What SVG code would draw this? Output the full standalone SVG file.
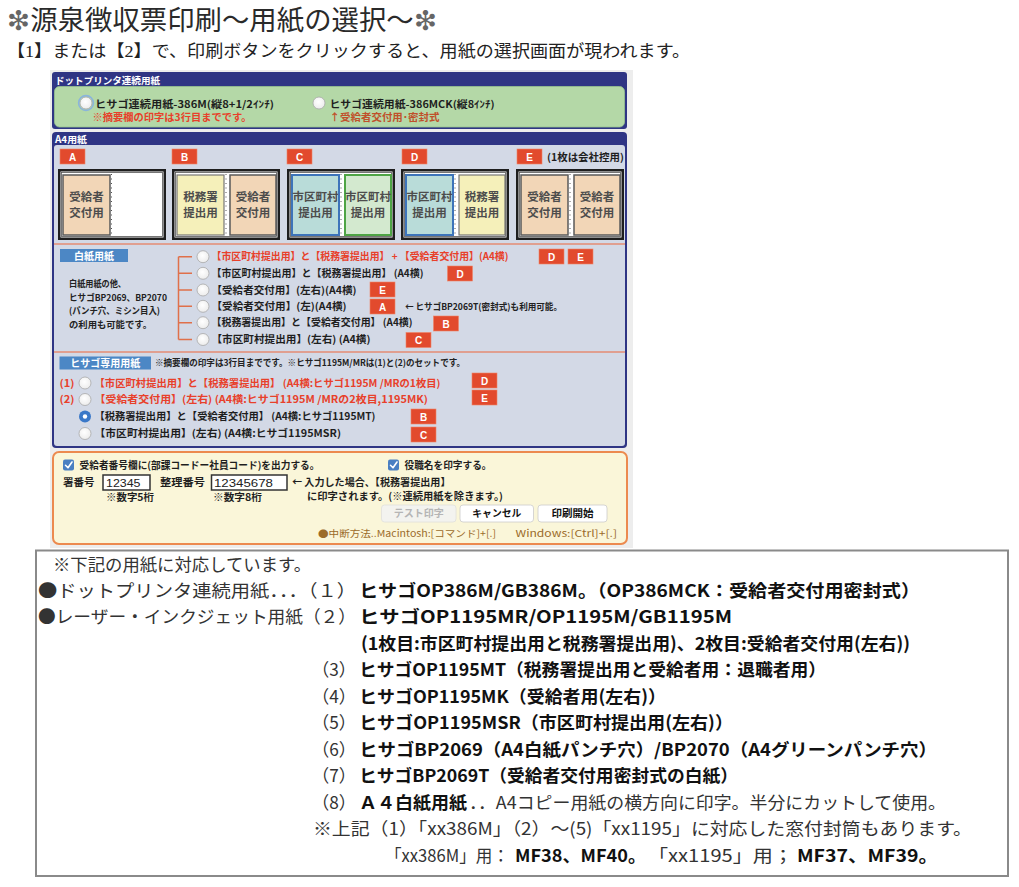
<svg xmlns="http://www.w3.org/2000/svg" width="1019" height="887" viewBox="0 0 1019 887">
<defs>
<style>
text{font-family:"Noto Sans CJK JP","Noto Sans",sans-serif;}
.b{font-weight:bold;}
.hd{fill:#ffffff;font-size:9.6px;font-weight:bold;}
.t10{font-size:10px;font-weight:bold;fill:#1e1e1e;}
.t9{font-size:9px;font-weight:bold;fill:#222;}
.red{fill:#e8402a;}
.bdg{fill:#e24a2d;stroke:#f08466;stroke-width:0.6;}
.bdt{fill:#ffffff;font-size:10px;font-weight:bold;text-anchor:middle;font-family:"Liberation Sans","Noto Sans",sans-serif;}
.frm{fill:#ffffff;stroke:#1e1e1e;stroke-width:2.5;}
.frm2{fill:none;stroke:#555;stroke-width:0.8;}
.peach{fill:#f2d6b7;stroke:#5a5a5a;stroke-width:1.5;}
.yel{fill:#f5f0ba;stroke:#777;stroke-width:1.2;}
.teal{fill:#b9dcd9;stroke:#3d74ba;stroke-width:2;}
.grn{fill:#d3e9cf;stroke:#4ea445;stroke-width:2;}
.pt{font-size:11.5px;font-weight:bold;fill:#4d4d4d;text-anchor:middle;}
.dots{stroke:#555;stroke-width:1;stroke-dasharray:1 3.5;}
.radio{fill:url(#rg);stroke:#a8a8a8;stroke-width:0.8;}
.lbl{fill:#4c87c5;}
.lblt{fill:#ffffff;font-size:10px;font-weight:bold;text-anchor:middle;}
.cb{fill:#4a7fc2;}
.chk{fill:none;stroke:#ffffff;stroke-width:1.6;stroke-linecap:round;stroke-linejoin:round;}
.inp{fill:#ffffff;stroke:#333;stroke-width:1.5;}
.inpt{font-size:11px;fill:#222;font-family:"Liberation Sans","Noto Sans",sans-serif;}
.btn{fill:#ffffff;stroke:#cccccc;stroke-width:0.8;}
.btnt{font-size:10px;font-weight:bold;fill:#111;text-anchor:middle;}
.brn{font-size:9.5px;fill:#9b6b2a;}
.lt{font-size:17.5px;fill:#333;}
.lb{font-size:17.5px;font-weight:bold;fill:#111;}
.conn{fill:none;stroke:#e0704a;stroke-width:1.5;}
</style>
<radialGradient id="rg" cx="0.45" cy="0.4" r="0.6">
<stop offset="0" stop-color="#ffffff"/>
<stop offset="1" stop-color="#ececec"/>
</radialGradient>
</defs>

<rect x="0" y="0" width="1019" height="887" fill="#ffffff"/>

<g id="title">
<text x="7" y="30" font-size="27" fill="#2a2a2a" textLength="430" lengthAdjust="spacingAndGlyphs"><tspan fill="#666">❇</tspan>源泉徴収票印刷〜用紙の選択〜<tspan fill="#666">❇</tspan></text>
</g>
<g id="subtitle">
<text x="7" y="57" font-size="17" fill="#222" style="font-family:'Liberation Serif','Noto Sans CJK JP',serif" textLength="683" lengthAdjust="spacingAndGlyphs">【1】または【2】で、印刷ボタンをクリックすると、用紙の選択画面が現われます。</text>
</g>

<g id="screen">
<rect x="50" y="70" width="583" height="478" fill="#ededed"/>
</g>

<g id="dot-printer-panel">
<rect x="52" y="72" width="575" height="57" rx="3" fill="#2f3584"/>
<text x="55" y="83.5" class="hd" textLength="105" lengthAdjust="spacingAndGlyphs">ドットプリンタ連続用紙</text>
<rect x="54.5" y="86.5" width="570" height="40.5" rx="5" fill="#b4d8a7" stroke="#98c48e" stroke-width="0.8"/>
<circle cx="86" cy="103" r="7.4" fill="none" stroke="#8ab4dc" stroke-width="1.6"/>
<circle cx="86" cy="103" r="6" class="radio"/>
<text x="95" y="107.5" class="t10" font-size="10.5" textLength="179" lengthAdjust="spacingAndGlyphs">ヒサゴ連続用紙-386M(縦8+1/2ｲﾝﾁ)</text>
<text x="92.5" y="121" class="t10 red" textLength="159" lengthAdjust="spacingAndGlyphs">※摘要欄の印字は3行目までです。</text>
<circle cx="319" cy="103" r="6" class="radio"/>
<text x="329.5" y="107.5" class="t10" font-size="10.5" textLength="165" lengthAdjust="spacingAndGlyphs">ヒサゴ連続用紙-386MCK(縦8ｲﾝﾁ)</text>
<text x="329.5" y="121" class="t10" style="fill:#c0502a" textLength="110" lengthAdjust="spacingAndGlyphs">↑受給者交付用･密封式</text>
</g>

<g id="a4-panel">
<rect x="52" y="132" width="575" height="316" rx="4" fill="#2f3584"/>
<rect x="54" y="145" width="571" height="301" rx="3" fill="#d3d9e6"/>
<text x="55" y="142.5" class="hd" textLength="32" lengthAdjust="spacingAndGlyphs">A4用紙</text>
<g id="badges-a4">
<rect x="60" y="149" width="25" height="15" class="bdg"/><text x="72.5" y="160.5" class="bdt">A</text>
<rect x="172" y="149" width="25" height="15" class="bdg"/><text x="184.5" y="160.5" class="bdt">B</text>
<rect x="287" y="149" width="25" height="15" class="bdg"/><text x="299.5" y="160.5" class="bdt">C</text>
<rect x="402" y="149" width="25" height="15" class="bdg"/><text x="414.5" y="160.5" class="bdt">D</text>
<rect x="517" y="149" width="25" height="15" class="bdg"/><text x="529.5" y="160.5" class="bdt">E</text>
<text x="547" y="160.5" class="t10" textLength="77" lengthAdjust="spacingAndGlyphs">(1枚は会社控用)</text>
</g>
<g id="paper-A" transform="translate(58,169)">
<rect x="1.25" y="1.25" width="105.5" height="68.5" class="frm"/>
<rect x="3.5" y="3.5" width="101" height="64" class="frm2"/>
<rect x="5" y="6" width="47" height="60" class="peach"/>
<text x="28.5" y="32" class="pt">受給者</text><text x="28.5" y="48" class="pt">交付用</text>
<line x1="53.5" y1="5" x2="53.5" y2="66" class="dots"/>
</g>
<g id="paper-B" transform="translate(172,169)">
<rect x="1.25" y="1.25" width="105.5" height="68.5" class="frm"/>
<rect x="3.5" y="3.5" width="101" height="64" class="frm2"/>
<rect x="5" y="6" width="47" height="60" class="yel"/>
<text x="28.5" y="32" class="pt">税務署</text><text x="28.5" y="48" class="pt">提出用</text>
<line x1="54" y1="5" x2="54" y2="66" class="dots"/>
<rect x="58" y="6" width="46" height="60" class="peach"/>
<text x="81" y="32" class="pt">受給者</text><text x="81" y="48" class="pt">交付用</text>
</g>
<g id="paper-C" transform="translate(287,169)">
<rect x="1.25" y="1.25" width="105.5" height="68.5" class="frm"/>
<rect x="3.5" y="3.5" width="101" height="64" class="frm2"/>
<rect x="5" y="6" width="47" height="60" class="teal"/>
<text x="28.5" y="32" class="pt">市区町村</text><text x="28.5" y="48" class="pt">提出用</text>
<line x1="54" y1="5" x2="54" y2="66" class="dots"/>
<rect x="58" y="6" width="46" height="60" class="grn"/>
<text x="81" y="32" class="pt">市区町村</text><text x="81" y="48" class="pt">提出用</text>
</g>
<g id="paper-D" transform="translate(401,169)">
<rect x="1.25" y="1.25" width="105.5" height="68.5" class="frm"/>
<rect x="3.5" y="3.5" width="101" height="64" class="frm2"/>
<rect x="5" y="6" width="47" height="60" class="teal"/>
<text x="28.5" y="32" class="pt">市区町村</text><text x="28.5" y="48" class="pt">提出用</text>
<line x1="54" y1="5" x2="54" y2="66" class="dots"/>
<rect x="58" y="6" width="46" height="60" class="yel"/>
<text x="81" y="32" class="pt">税務署</text><text x="81" y="48" class="pt">提出用</text>
</g>
<g id="paper-E" transform="translate(516,169)">
<rect x="1.25" y="1.25" width="105.5" height="68.5" class="frm"/>
<rect x="3.5" y="3.5" width="101" height="64" class="frm2"/>
<rect x="5" y="6" width="47" height="60" class="peach"/>
<text x="28.5" y="32" class="pt">受給者</text><text x="28.5" y="48" class="pt">交付用</text>
<line x1="54" y1="5" x2="54" y2="66" class="dots"/>
<rect x="58" y="6" width="46" height="60" class="peach"/>
<text x="81" y="32" class="pt">受給者</text><text x="81" y="48" class="pt">交付用</text>
</g>
<line x1="54" y1="244" x2="625" y2="244" stroke="#e58b73" stroke-width="1.5"/>
<line x1="54" y1="352" x2="625" y2="352" stroke="#e58b73" stroke-width="1.5"/>
</g>

<g id="blank-paper">
<rect x="60" y="249" width="68" height="13" class="lbl"/>
<text x="94" y="259.5" class="lblt">白紙用紙</text>
<text x="69" y="287" class="t9" textLength="57" lengthAdjust="spacingAndGlyphs">白紙用紙の他、</text>
<text x="69" y="300.5" class="t9" textLength="98" lengthAdjust="spacingAndGlyphs">ヒサゴBP2069、BP2070</text>
<text x="69" y="314" class="t9" textLength="91" lengthAdjust="spacingAndGlyphs">(パンチ穴、ミシン目入)</text>
<text x="69" y="327.5" class="t9" textLength="83" lengthAdjust="spacingAndGlyphs">の利用も可能です。</text>
<circle cx="203" cy="256.7" r="6" class="radio"/>
<text x="211.5" y="260.3" class="t10 red" textLength="297" lengthAdjust="spacingAndGlyphs">【市区町村提出用】と【税務署提出用】 + 【受給者交付用】(A4横)</text>
<rect x="539" y="249" width="25" height="15" class="bdg"/><text x="551.5" y="260.5" class="bdt">D</text>
<rect x="568" y="249" width="25" height="15" class="bdg"/><text x="580.5" y="260.5" class="bdt">E</text>
<circle cx="203" cy="273.3" r="6" class="radio"/>
<text x="211.5" y="276.9" class="t10" textLength="212" lengthAdjust="spacingAndGlyphs">【市区町村提出用】と【税務署提出用】 (A4横)</text>
<rect x="447.5" y="266" width="25" height="15" class="bdg"/><text x="460" y="277.5" class="bdt">D</text>
<circle cx="203" cy="290" r="6" class="radio"/>
<text x="211.5" y="293.6" class="t10" textLength="145" lengthAdjust="spacingAndGlyphs">【受給者交付用】(左右)(A4横)</text>
<rect x="370" y="282" width="25" height="15" class="bdg"/><text x="382.5" y="293.5" class="bdt">E</text>
<circle cx="203" cy="306.3" r="6" class="radio"/>
<text x="211.5" y="309.9" class="t10" textLength="135" lengthAdjust="spacingAndGlyphs">【受給者交付用】(左)(A4横)</text>
<rect x="370" y="299" width="25" height="15" class="bdg"/><text x="382.5" y="310.5" class="bdt">A</text>
<text x="405" y="309.5" class="t9" font-size="8.5" textLength="157" lengthAdjust="spacingAndGlyphs">← ヒサゴBP2069T(密封式)も利用可能。</text>
<circle cx="203" cy="322.7" r="6" class="radio"/>
<text x="211.5" y="326.3" class="t10" textLength="201" lengthAdjust="spacingAndGlyphs">【税務署提出用】と【受給者交付用】 (A4横)</text>
<rect x="433.5" y="316" width="25" height="15" class="bdg"/><text x="446" y="327.5" class="bdt">B</text>
<circle cx="203" cy="339.5" r="6" class="radio"/>
<text x="211.5" y="343.1" class="t10" textLength="159" lengthAdjust="spacingAndGlyphs">【市区町村提出用】(左右) (A4横)</text>
<rect x="406" y="332.5" width="25" height="15" class="bdg"/><text x="418.5" y="344" class="bdt">C</text>
</g>

<g id="hisago-paper">
<rect x="59.5" y="356.5" width="91.5" height="13" class="lbl"/>
<text x="105.2" y="366.8" class="lblt">ヒサゴ専用用紙</text>
<text x="155" y="366" class="t9" font-size="8.5" fill="#333" textLength="310" lengthAdjust="spacingAndGlyphs">※摘要欄の印字は3行目までです。※ヒサゴ1195M/MRは(1)と(2)のセットです。</text>
<text x="59.5" y="386.8" class="t10 red" font-weight="normal" textLength="15" lengthAdjust="spacingAndGlyphs">(1)</text>
<circle cx="85" cy="383" r="6" class="radio"/>
<text x="94.5" y="386.8" class="t10 red" textLength="346" lengthAdjust="spacingAndGlyphs">【市区町村提出用】と【税務署提出用】 (A4横:ヒサゴ1195M /MRの1枚目)</text>
<rect x="472" y="373" width="25" height="15" class="bdg"/><text x="484.5" y="384.5" class="bdt">D</text>
<text x="59.5" y="403.3" class="t10 red" font-weight="normal" textLength="15" lengthAdjust="spacingAndGlyphs">(2)</text>
<circle cx="85" cy="399.5" r="6" class="radio"/>
<text x="94.5" y="403.3" class="t10 red" textLength="333.5" lengthAdjust="spacingAndGlyphs">【受給者交付用】(左右) (A4横:ヒサゴ1195M /MRの2枚目,1195MK)</text>
<rect x="472" y="390" width="25" height="15" class="bdg"/><text x="484.5" y="401.5" class="bdt">E</text>
<circle cx="85" cy="416.5" r="6" fill="#3a78c8"/>
<circle cx="85" cy="416.5" r="2.2" fill="#ffffff"/>
<text x="94.5" y="420.3" class="t10" textLength="281" lengthAdjust="spacingAndGlyphs">【税務署提出用】と【受給者交付用】 (A4横:ヒサゴ1195MT)</text>
<rect x="411" y="409" width="25" height="15" class="bdg"/><text x="423.5" y="420.5" class="bdt">B</text>
<circle cx="85" cy="433.5" r="6" class="radio"/>
<text x="94.5" y="437.3" class="t10" textLength="246.5" lengthAdjust="spacingAndGlyphs">【市区町村提出用】(左右) (A4横:ヒサゴ1195MSR)</text>
<rect x="411" y="427" width="25" height="15" class="bdg"/><text x="423.5" y="438.5" class="bdt">C</text>
</g>

<g id="options-panel">
<rect x="53" y="452" width="574" height="92" rx="6" fill="#faf6d9" stroke="#ec8a4f" stroke-width="2"/>
<rect x="63" y="459.5" width="11" height="11" rx="2" class="cb"/>
<path d="M65.5 465.3 L68 467.8 L72 462" class="chk"/>
<text x="79.5" y="468.5" class="t10" textLength="240" lengthAdjust="spacingAndGlyphs">受給者番号欄に(部課コードー社員コード)を出力する。</text>
<rect x="388" y="459.5" width="11" height="11" rx="2" class="cb"/>
<path d="M390.5 465.3 L393 467.8 L397 462" class="chk"/>
<text x="404.5" y="468.5" class="t10" textLength="87" lengthAdjust="spacingAndGlyphs">役職名を印字する。</text>
<text x="63" y="485.5" class="t10" textLength="31.5" lengthAdjust="spacingAndGlyphs">署番号</text>
<rect x="103" y="475" width="47" height="15" class="inp"/>
<text x="106" y="486.8" class="inpt" textLength="34.5" lengthAdjust="spacingAndGlyphs">12345</text>
<text x="160" y="485.5" class="t10" textLength="45" lengthAdjust="spacingAndGlyphs">整理番号</text>
<rect x="211.5" y="475" width="75.5" height="15" class="inp"/>
<text x="214" y="486.8" class="inpt" textLength="59" lengthAdjust="spacingAndGlyphs">12345678</text>
<text x="292" y="485.5" class="t10" font-size="9.5" textLength="158.5" lengthAdjust="spacingAndGlyphs">← 入力した場合、【税務署提出用】</text>
<text x="307" y="500" class="t10" font-size="9.5" textLength="196" lengthAdjust="spacingAndGlyphs">に印字されます。(※連続用紙を除きます。)</text>
<text x="106" y="500.5" class="t10" font-size="9.5" textLength="48" lengthAdjust="spacingAndGlyphs">※数字5桁</text>
<text x="213" y="500.5" class="t10" font-size="9.5" textLength="49" lengthAdjust="spacingAndGlyphs">※数字8桁</text>
<rect x="381.5" y="505" width="74.5" height="17" rx="3" fill="#f3f3ef" stroke="#e0e0dc" stroke-width="0.8"/>
<text x="418.7" y="517" class="btnt" style="fill:#b5b5b5" textLength="50" lengthAdjust="spacingAndGlyphs">テスト印字</text>
<rect x="460" y="505" width="73.5" height="17" rx="3" class="btn"/>
<text x="496.8" y="517" class="btnt" textLength="49" lengthAdjust="spacingAndGlyphs">キャンセル</text>
<rect x="538" y="505" width="69" height="17" rx="3" class="btn"/>
<text x="572.5" y="517" class="btnt" textLength="42" lengthAdjust="spacingAndGlyphs">印刷開始</text>
<text x="318" y="536.5" class="brn" textLength="178" lengthAdjust="spacingAndGlyphs">●中断方法..Macintosh:[コマンド]+[.]</text>
<text x="515.5" y="536.5" class="brn" textLength="101.5" lengthAdjust="spacingAndGlyphs">Windows:[Ctrl]+[.]</text>
</g>

<g id="connectors">
<path d="M178.5 256.7 V339.5 M178.5 256.7 H192 M178.5 273.3 H192 M178.5 290 H192 M178.5 306.3 H192 M178.5 322.7 H192 M178.5 339.5 H192" class="conn"/>
</g>

<g id="note-box">
<rect x="36" y="550.5" width="972" height="325.5" fill="#ffffff" stroke="#8a8a8a" stroke-width="2"/>
<text x="53" y="570.5" class="lt" textLength="258" lengthAdjust="spacingAndGlyphs">※下記の用紙に対応しています。</text>
<text x="38" y="596.8" class="lt" textLength="318" lengthAdjust="spacingAndGlyphs">●ドットプリンタ連続用紙．．．（１）</text>
<text x="359" y="596.8" class="lb" textLength="561" lengthAdjust="spacingAndGlyphs">ヒサゴOP386M/GB386M。（OP386MCK：受給者交付用密封式）</text>
<text x="38" y="623.3" class="lt" textLength="318" lengthAdjust="spacingAndGlyphs">●レーザー・インクジェット用紙（２）</text>
<text x="359" y="623.3" class="lb" textLength="373" lengthAdjust="spacingAndGlyphs">ヒサゴOP1195MR/OP1195M/GB1195M</text>
<text x="361" y="649.8" class="lb" textLength="549" lengthAdjust="spacingAndGlyphs">(1枚目:市区町村提出用と税務署提出用)、2枚目:受給者交付用(左右))</text>
<text x="312" y="676.3" class="lt" textLength="44" lengthAdjust="spacingAndGlyphs">（3）</text>
<text x="359" y="676.3" class="lb" textLength="467" lengthAdjust="spacingAndGlyphs">ヒサゴOP1195MT（税務署提出用と受給者用：退職者用）</text>
<text x="312" y="702.8" class="lt" textLength="44" lengthAdjust="spacingAndGlyphs">（4）</text>
<text x="359" y="702.8" class="lb" textLength="307" lengthAdjust="spacingAndGlyphs">ヒサゴOP1195MK（受給者用(左右)）</text>
<text x="312" y="729.3" class="lt" textLength="44" lengthAdjust="spacingAndGlyphs">（5）</text>
<text x="359" y="729.3" class="lb" textLength="374" lengthAdjust="spacingAndGlyphs">ヒサゴOP1195MSR（市区町村提出用(左右)）</text>
<text x="312" y="755.8" class="lt" textLength="44" lengthAdjust="spacingAndGlyphs">（6）</text>
<text x="359" y="755.8" class="lb" textLength="578" lengthAdjust="spacingAndGlyphs">ヒサゴBP2069（A4白紙パンチ穴）/BP2070（A4グリーンパンチ穴）</text>
<text x="312" y="782.3" class="lt" textLength="44" lengthAdjust="spacingAndGlyphs">（7）</text>
<text x="359" y="782.3" class="lb" textLength="379" lengthAdjust="spacingAndGlyphs">ヒサゴBP2069T（受給者交付用密封式の白紙）</text>
<text x="312" y="808.8" class="lt" textLength="44" lengthAdjust="spacingAndGlyphs">（8）</text>
<text x="359" y="808.8" class="lb" textLength="108" lengthAdjust="spacingAndGlyphs">Ａ４白紙用紙</text>
<text x="469" y="808.8" class="lt" textLength="477" lengthAdjust="spacingAndGlyphs">．．A4コピー用紙の横方向に印字。半分にカットして使用。</text>
<text x="313" y="835.3" class="lt" textLength="659" lengthAdjust="spacingAndGlyphs">※上記（1）「xx386M」（2）〜(5)「xx1195」に対応した窓付封筒もあります。</text>
<text x="385" y="861.8" class="lt" textLength="124" lengthAdjust="spacingAndGlyphs">「xx386M」用：</text>
<text x="515" y="861.8" class="lb" textLength="131" lengthAdjust="spacingAndGlyphs">MF38、MF40。</text>
<text x="648" y="861.8" class="lt" textLength="145" lengthAdjust="spacingAndGlyphs">「xx1195」用；</text>
<text x="797" y="861.8" class="lb" textLength="141" lengthAdjust="spacingAndGlyphs">MF37、MF39。</text>
</g>
</svg>
